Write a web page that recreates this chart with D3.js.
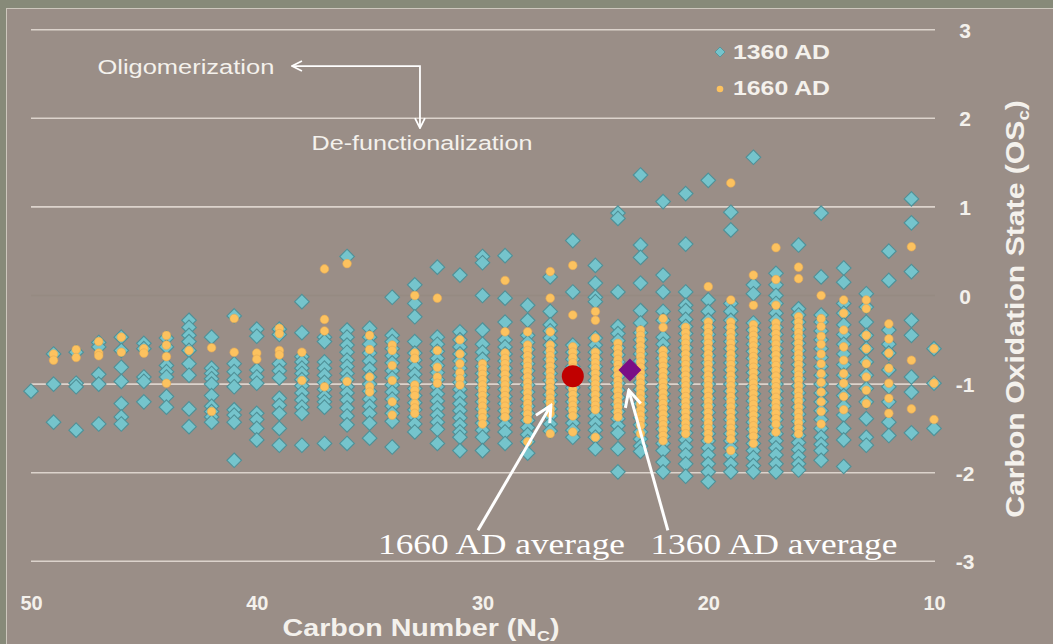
<!DOCTYPE html>
<html>
<head>
<meta charset="utf-8">
<script src="https://cdn.jsdelivr.net/npm/d3@7"></script>
<style>
  html, body { margin: 0; padding: 0; background: #878a79; }
  svg { display: block; }
</style>
</head>
<body>
<svg id="chart" width="1053" height="644"></svg>
<script>
// Carbon numbers shown on the horizontal axis (one column per carbon number)
const carbonNumbers = [50, 49, 48, 47, 46, 45, 44, 43, 42, 41, 40, 39, 38, 37, 36, 35, 34, 33, 32, 31,
  30, 29, 28, 27, 26, 25, 24, 23, 22, 21, 20, 19, 18, 17, 16, 15, 14, 13, 12, 11, 10];

// Carbon oxidation state of every compound, grouped by carbon number (same order as carbonNumbers)
const os1360 = [
  [-1.08],
  [-0.66, -1.00, -1.43],
  [-0.64, -0.99, -1.03, -1.52],
  [-0.53, -0.58, -0.89, -1.00, -1.45],
  [-0.47, -0.62, -0.81, -0.97, -1.22, -1.37, -1.45],
  [-0.54, -0.60, -0.92, -0.97, -1.20],
  [-0.48, -0.58, -0.79, -0.86, -0.92, -1.14, -1.26],
  [-0.28, -0.36, -0.45, -0.52, -0.62, -0.77, -0.90, -1.28, -1.48],
  [-0.47, -0.82, -0.88, -0.94, -1.00, -1.13, -1.25, -1.31, -1.37, -1.43],
  [-0.23, -0.77, -0.86, -0.95, -1.03, -1.29, -1.35, -1.43, -1.86],
  [-0.38, -0.46, -0.84, -0.92, -0.99, -1.33, -1.40, -1.50, -1.63],
  [-0.38, -0.44, -0.77, -0.85, -0.93, -1.16, -1.24, -1.33, -1.50, -1.69],
  [-0.07, -0.42, -0.69, -0.75, -0.82, -0.88, -0.95, -1.02, -1.10, -1.18, -1.26, -1.33, -1.69],
  [-0.47, -0.52, -0.75, -0.82, -0.90, -0.98, -1.06, -1.14, -1.20, -1.26, -1.67],
  [0.44, -0.39, -0.47, -0.56, -0.64, -0.73, -0.80, -0.88, -0.95, -1.03, -1.10, -1.18, -1.27, -1.36, -1.46, -1.67],
  [-0.37, -0.47, -0.55, -0.65, -0.74, -0.83, -0.92, -1.00, -1.08, -1.17, -1.25, -1.33, -1.44, -1.61],
  [-0.02, -0.45, -0.52, -0.60, -0.68, -0.76, -0.85, -0.93, -1.01, -1.09, -1.17, -1.25, -1.33, -1.42, -1.71],
  [0.12, -0.09, -0.24, -0.52, -0.65, -0.73, -0.81, -0.89, -0.97, -1.05, -1.13, -1.21, -1.29, -1.37, -1.45, -1.54],
  [0.32, -0.47, -0.55, -0.63, -0.71, -0.79, -0.87, -0.95, -1.03, -1.11, -1.19, -1.27, -1.35, -1.43, -1.51, -1.67],
  [0.23, -0.41, -0.50, -0.58, -0.66, -0.74, -0.82, -0.90, -0.98, -1.06, -1.14, -1.22, -1.30, -1.38, -1.46, -1.54, -1.60, -1.75],
  [0.44, 0.37, 0.00, -0.39, -0.55, -0.64, -0.72, -0.80, -0.88, -0.96, -1.04, -1.12, -1.20, -1.28, -1.36, -1.44, -1.52, -1.60, -1.75],
  [0.45, -0.03, -0.30, -0.50, -0.58, -0.66, -0.74, -0.82, -0.90, -0.98, -1.06, -1.14, -1.22, -1.30, -1.38, -1.46, -1.54, -1.67],
  [-0.11, -0.28, -0.45, -0.53, -0.61, -0.69, -0.77, -0.85, -0.93, -1.01, -1.09, -1.17, -1.25, -1.33, -1.41, -1.49, -1.57, -1.65, -1.78],
  [0.21, -0.18, -0.33, -0.40, -0.48, -0.56, -0.64, -0.72, -0.80, -0.88, -0.96, -1.04, -1.12, -1.20, -1.28, -1.36, -1.45, -1.53],
  [0.62, 0.04, -0.56, -0.64, -0.72, -0.80, -0.88, -0.96, -1.04, -1.12, -1.20, -1.28, -1.36, -1.44, -1.52, -1.60],
  [0.34, 0.14, -0.02, -0.07, -0.48, -0.56, -0.64, -0.72, -0.80, -0.88, -0.96, -1.04, -1.12, -1.20, -1.28, -1.36, -1.44, -1.52, -1.60, -1.73],
  [0.93, 0.87, 0.04, -0.35, -0.43, -0.51, -0.59, -0.67, -0.75, -0.83, -0.91, -0.99, -1.07, -1.15, -1.23, -1.31, -1.39, -1.47, -1.55, -1.73, -1.99],
  [1.36, 0.57, 0.43, 0.14, -0.17, -0.31, -0.42, -0.50, -0.58, -0.66, -0.74, -0.82, -0.90, -0.98, -1.06, -1.14, -1.22, -1.30, -1.38, -1.46, -1.54, -1.62, -1.70, -1.76],
  [1.06, 0.23, 0.04, -0.18, -0.28, -0.47, -0.55, -0.63, -0.71, -0.79, -0.87, -0.95, -1.03, -1.11, -1.19, -1.27, -1.35, -1.43, -1.51, -1.59, -1.67, -1.75, -1.88, -1.99],
  [1.15, 0.58, 0.04, -0.11, -0.17, -0.27, -0.35, -0.43, -0.51, -0.59, -0.67, -0.75, -0.83, -0.91, -0.99, -1.07, -1.15, -1.23, -1.31, -1.39, -1.47, -1.55, -1.63, -1.71, -1.80, -1.90, -2.04],
  [1.30, -0.05, -0.18, -0.28, -0.36, -0.44, -0.52, -0.60, -0.68, -0.76, -0.84, -0.92, -1.00, -1.08, -1.16, -1.24, -1.32, -1.40, -1.48, -1.56, -1.64, -1.72, -1.80, -1.90, -1.99, -2.10],
  [0.94, 0.74, -0.09, -0.18, -0.28, -0.36, -0.44, -0.52, -0.60, -0.68, -0.76, -0.84, -0.92, -1.00, -1.08, -1.16, -1.24, -1.32, -1.40, -1.48, -1.56, -1.64, -1.72, -1.80, -1.90, -1.99],
  [1.56, 0.12, 0.02, -0.31, -0.39, -0.47, -0.55, -0.63, -0.71, -0.79, -0.87, -0.95, -1.03, -1.11, -1.19, -1.27, -1.35, -1.43, -1.51, -1.59, -1.67, -1.75, -1.83, -1.92, -1.99],
  [0.25, 0.12, 0.00, -0.09, -0.20, -0.28, -0.36, -0.44, -0.52, -0.60, -0.68, -0.76, -0.84, -0.92, -1.00, -1.08, -1.16, -1.24, -1.32, -1.40, -1.48, -1.56, -1.64, -1.72, -1.80, -1.90, -1.99],
  [0.57, -0.15, -0.22, -0.30, -0.38, -0.46, -0.54, -0.62, -0.70, -0.78, -0.86, -0.94, -1.02, -1.10, -1.18, -1.26, -1.34, -1.42, -1.50, -1.58, -1.66, -1.74, -1.82, -1.90, -1.97],
  [0.93, 0.21, -0.22, -0.30, -0.40, -0.50, -0.60, -0.70, -0.80, -0.90, -1.00, -1.10, -1.20, -1.30, -1.40, -1.50, -1.60, -1.68, -1.75, -1.86],
  [0.31, 0.15, -0.09, -0.20, -0.33, -0.44, -0.55, -0.66, -0.78, -0.90, -1.02, -1.13, -1.25, -1.35, -1.50, -1.63, -1.93],
  [0.02, -0.13, -0.30, -0.45, -0.60, -0.75, -0.90, -1.05, -1.20, -1.39, -1.60, -1.69],
  [0.50, 0.17, -0.39, -0.55, -0.65, -0.84, -1.03, -1.20, -1.43, -1.58],
  [1.09, 0.82, 0.27, -0.28, -0.45, -0.92, -1.09, -1.55],
  [-0.60, -0.99, -1.50]
];

const os1660 = [
  [],
  [-0.66, -0.73],
  [-0.61, -0.70],
  [-0.52, -0.65, -0.68],
  [-0.47, -0.64],
  [-0.60, -0.65],
  [-0.45, -0.56, -0.69, -0.99],
  [-0.62],
  [-0.59, -1.31],
  [-0.26, -0.64],
  [-0.65, -0.72],
  [-0.37, -0.43, -0.62, -0.67],
  [-0.64, -0.96],
  [0.30, -0.27, -0.40, -1.03],
  [0.36, -0.97],
  [-0.45, -0.61, -0.92, -1.03, -1.09],
  [-0.56, -0.62, -0.79, -0.96, -1.20, -1.35],
  [0.00, -0.65, -0.71, -1.01, -1.07, -1.13, -1.22, -1.27, -1.33],
  [-0.03, -0.62, -0.81, -0.92, -0.99],
  [-0.50, -0.66, -0.77, -0.87, -0.94, -1.01],
  [-0.77, -0.83, -0.89, -0.95, -1.01, -1.07, -1.13, -1.19, -1.25, -1.32, -1.38, -1.45],
  [0.17, -0.41, -0.65, -0.71, -0.77, -0.83, -0.89, -0.95, -1.01, -1.07, -1.13, -1.19, -1.25, -1.31, -1.37],
  [-0.41, -0.56, -0.62, -0.68, -0.74, -0.80, -0.86, -0.92, -0.98, -1.04, -1.10, -1.16, -1.22, -1.28, -1.34, -1.40, -1.65],
  [0.27, -0.03, -0.41, -0.56, -0.62, -0.68, -0.74, -0.80, -0.86, -0.92, -0.98, -1.04, -1.10, -1.16, -1.22, -1.28, -1.33, -1.56],
  [0.34, -0.22, -0.58, -0.64, -0.70, -0.76, -0.82, -0.88, -0.94, -1.00, -1.06, -1.12, -1.18, -1.24, -1.30, -1.36, -1.54],
  [-0.18, -0.28, -0.48, -0.64, -0.70, -0.76, -0.82, -0.88, -0.94, -1.00, -1.06, -1.12, -1.18, -1.24, -1.29, -1.60],
  [-0.54, -0.60, -0.66, -0.72, -0.78, -0.84, -0.90, -0.96, -1.02, -1.08, -1.14, -1.20, -1.26, -1.32, -1.37],
  [-0.39, -0.45, -0.51, -0.57, -0.63, -0.69, -0.75, -0.81, -0.87, -0.93, -0.99, -1.05, -1.11, -1.17, -1.23, -1.29, -1.35, -1.41, -1.47, -1.56],
  [-0.26, -0.36, -0.62, -0.68, -0.74, -0.80, -0.86, -0.92, -0.98, -1.04, -1.10, -1.16, -1.22, -1.28, -1.34, -1.40, -1.46, -1.52, -1.58, -1.64],
  [-0.36, -0.42, -0.48, -0.54, -0.60, -0.66, -0.72, -0.78, -0.84, -0.90, -0.96, -1.02, -1.08, -1.14, -1.20, -1.26, -1.32, -1.38, -1.44, -1.50, -1.56],
  [0.10, -0.30, -0.36, -0.42, -0.48, -0.54, -0.60, -0.66, -0.72, -0.78, -0.84, -0.90, -0.96, -1.02, -1.08, -1.14, -1.20, -1.26, -1.32, -1.38, -1.44, -1.50, -1.56, -1.62],
  [1.27, -0.05, -0.30, -0.36, -0.42, -0.48, -0.54, -0.60, -0.66, -0.72, -0.78, -0.84, -0.90, -0.96, -1.02, -1.08, -1.14, -1.20, -1.26, -1.32, -1.38, -1.44, -1.50, -1.56, -1.62, -1.75],
  [0.23, -0.11, -0.33, -0.39, -0.45, -0.51, -0.57, -0.63, -0.69, -0.75, -0.81, -0.87, -0.93, -0.99, -1.05, -1.11, -1.17, -1.23, -1.29, -1.35, -1.41, -1.47, -1.53, -1.59, -1.67],
  [0.54, 0.18, -0.11, -0.31, -0.37, -0.43, -0.49, -0.55, -0.61, -0.67, -0.73, -0.79, -0.85, -0.91, -0.97, -1.03, -1.09, -1.15, -1.21, -1.27, -1.33, -1.39, -1.45, -1.54],
  [0.32, 0.19, -0.24, -0.30, -0.36, -0.42, -0.48, -0.54, -0.60, -0.66, -0.72, -0.78, -0.84, -0.90, -0.96, -1.02, -1.08, -1.14, -1.20, -1.26, -1.32, -1.38, -1.44, -1.50, -1.56],
  [0.00, -0.26, -0.35, -0.46, -0.55, -0.66, -0.77, -0.88, -0.98, -1.09, -1.20, -1.31, -1.45],
  [-0.05, -0.20, -0.39, -0.58, -0.73, -0.88, -0.99, -1.14, -1.29],
  [-0.05, -0.15, -0.45, -0.60, -0.77, -0.92, -1.07, -1.22],
  [-0.32, -0.49, -0.65, -0.82, -0.99, -1.16, -1.33],
  [0.55, -0.73, -1.28],
  [-0.60, -0.99, -1.40]
];

// Series averages: [carbon number, oxidation state]
const avg1660 = [26.0, -0.91];
const avg1360 = [23.47, -0.84];

// Axis ticks
const xTicks = [50, 40, 30, 20, 10];
const yTicks = [3, 2, 1, 0, -1, -2, -3];

// Series names
const seriesNames = ["1360 AD", "1660 AD"];

const W = 1053, H = 644;
const svg = d3.select("#chart");

const x = d3.scaleLinear().domain([50, 10]).range([31, 934]);
const y = d3.scaleLinear().domain([-3, 3]).range([561.3, 29.7]);

const SANS = "'Liberation Sans', Arial, Helvetica, sans-serif";
const SERIF = "'Liberation Serif', 'Times New Roman', serif";
const TEXT = "#f4f1ec";
const plainNum = d => String(d);

// Text whose run is widened to a given length (the slide fonts are set wide)
function wideText(parent, cx, cy, rot, length, style, build) {
  const g = parent.append("g");
  const t = g.append("text").attr("text-anchor", "middle").attr("dy", "0.35em")
    .attr("fill", style.fill || TEXT)
    .style("font-family", style.family || SANS)
    .style("font-size", style.size + "px")
    .style("font-weight", style.weight || "normal");
  build(t);
  const w = t.node().getBBox().width;
  g.attr("transform", `translate(${cx},${cy}) rotate(${rot}) scale(${length / w},1)`);
  return g;
}

// Slide frame and chart panel
svg.append("rect").attr("width", W).attr("height", H).attr("fill", "#878a79");
svg.append("rect").attr("x", 6.5).attr("y", 8.5).attr("width", W).attr("height", H)
  .attr("fill", "#9a8e87").attr("stroke", "#cdc7bd").attr("stroke-width", 1);

// Arrow markers
const defs = svg.append("defs");
defs.append("marker").attr("id", "headSmall")
  .attr("viewBox", "0 0 12 12").attr("refX", 11).attr("refY", 6)
  .attr("markerWidth", 12).attr("markerHeight", 12).attr("markerUnits", "userSpaceOnUse")
  .attr("orient", "auto-start-reverse")
  .append("path").attr("d", "M1,1 L11,6 L1,11").attr("fill", "none")
  .attr("stroke", "#ffffff").attr("stroke-width", 1.8);
defs.append("marker").attr("id", "headBig")
  .attr("viewBox", "0 0 20 20").attr("refX", 18).attr("refY", 10)
  .attr("markerWidth", 20).attr("markerHeight", 20).attr("markerUnits", "userSpaceOnUse")
  .attr("orient", "auto")
  .append("path").attr("d", "M2,2 L18,10 L2,18").attr("fill", "none")
  .attr("stroke", "#ffffff").attr("stroke-width", 3).attr("stroke-linejoin", "miter");

// Horizontal gridlines (the zero line is barely visible)
svg.append("g").selectAll("line").data(yTicks).join("line")
  .attr("x1", x(50)).attr("x2", x(10) + 1)
  .attr("y1", d => y(d)).attr("y2", d => y(d))
  .attr("stroke", d => d === 0 ? "#91857e" : "#dcd3cc")
  .attr("stroke-opacity", d => d === 0 ? 0.5 : 1)
  .attr("stroke-width", 1.6);

// Right-hand value axis
const yAxis = svg.append("g").attr("transform", `translate(${x(10) + 31},0)`)
  .call(d3.axisRight(y).tickValues(yTicks).tickSize(0).tickPadding(0).tickFormat(plainNum));
yAxis.select(".domain").remove();
yAxis.selectAll("text").attr("text-anchor", "middle").attr("dy", "0.36em").attr("x", 0)
  .attr("fill", TEXT).style("font-family", SANS).style("font-size", "21px").style("font-weight", "bold");

// Bottom carbon-number axis
const xAxis = svg.append("g").attr("transform", `translate(0,592)`)
  .call(d3.axisBottom(x).tickValues(xTicks).tickSize(0).tickPadding(0).tickFormat(plainNum));
xAxis.select(".domain").remove();
xAxis.selectAll("text").attr("dy", "0.36em").attr("y", 11)
  .attr("fill", TEXT).style("font-family", SANS).style("font-size", "20px").style("font-weight", "bold");

// Axis titles
wideText(svg, 421, 628, 0, 277, { size: 24, weight: "bold" }, t => {
  t.append("tspan").text("Carbon Number (N");
  t.append("tspan").text("C").style("font-size", "15px").attr("dy", 5);
  t.append("tspan").text(")").attr("dy", -5);
});
wideText(svg, 1015, 309, -90, 418, { size: 26, weight: "bold" }, t => {
  t.append("tspan").text("Carbon Oxidation State (OS");
  t.append("tspan").text("c").style("font-size", "16px").attr("dy", 5);
  t.append("tspan").text(")").attr("dy", -5);
});

// Flatten the columns into points
const pts1360 = [], pts1660 = [];
carbonNumbers.forEach((c, i) => {
  os1360[i].forEach(v => pts1360.push({ c, v }));
  os1660[i].forEach(v => pts1660.push({ c, v }));
});

const diamond = r => `M0,${-r} L${r},0 L0,${r} L${-r},0 Z`;

svg.append("g").selectAll("path").data(pts1360).join("path")
  .attr("transform", d => `translate(${x(d.c)},${y(d.v)})`)
  .attr("d", diamond(7.3))
  .attr("fill", "#75c4cc").attr("stroke", "#4f9097").attr("stroke-width", 1.1);

svg.append("g").selectAll("circle").data(pts1660).join("circle")
  .attr("cx", d => x(d.c)).attr("cy", d => y(d.v)).attr("r", 4.3)
  .attr("fill", "#fcc25f").attr("stroke", "#e4aa55").attr("stroke-width", 0.6);

// Average markers
svg.append("circle").attr("cx", x(avg1660[0])).attr("cy", y(avg1660[1])).attr("r", 11)
  .attr("fill", "#c00000");
svg.append("path").attr("transform", `translate(${x(avg1360[0])},${y(avg1360[1])})`)
  .attr("d", diamond(11.5)).attr("fill", "#7a0e86");

// Legend
const lg = svg.append("g");
lg.append("path").attr("transform", "translate(720,52)").attr("d", diamond(5)).attr("fill", "#75c4cc")
  .attr("stroke", "#4f9097").attr("stroke-width", 0.8);
lg.append("circle").attr("cx", 720).attr("cy", 89).attr("r", 3.3).attr("fill", "#fcc25f");
seriesNames.forEach((name, i) => {
  wideText(lg, 733 + 97 / 2, 52 + i * 36, 0, 97, { size: 21, weight: "bold" }, t => t.text(name));
});

// Process annotations (positions in data units)
wideText(svg, x(43.14), y(2.58), 0, 177, { size: 21 }, t => t.text("Oligomerization"));
wideText(svg, x(32.68), y(1.72), 0, 221, { size: 21 }, t => t.text("De-functionalization"));
svg.append("path")
  .attr("d", `M${x(38.44)},${y(2.59)} L${x(32.77)},${y(2.59)} L${x(32.77)},${y(1.89)}`)
  .attr("fill", "none").attr("stroke", "#ffffff").attr("stroke-width", 1.8)
  .attr("marker-start", "url(#headSmall)").attr("marker-end", "url(#headSmall)");

// Average callouts
wideText(svg, x(29.16), y(-2.8), 0, 247, { size: 29, family: SERIF, fill: "#ffffff" }, t => t.text("1660 AD average"));
wideText(svg, x(17.09), y(-2.8), 0, 247, { size: 29, family: SERIF, fill: "#ffffff" }, t => t.text("1360 AD average"));
svg.append("line").attr("x1", x(30.2)).attr("y1", y(-2.65)).attr("x2", x(26.97)).attr("y2", y(-1.24))
  .attr("stroke", "#ffffff").attr("stroke-width", 3).attr("marker-end", "url(#headBig)");
svg.append("line").attr("x1", x(21.79)).attr("y1", y(-2.65)).attr("x2", x(23.52)).attr("y2", y(-1.07))
  .attr("stroke", "#ffffff").attr("stroke-width", 3).attr("marker-end", "url(#headBig)");
</script>
</body>
</html>
